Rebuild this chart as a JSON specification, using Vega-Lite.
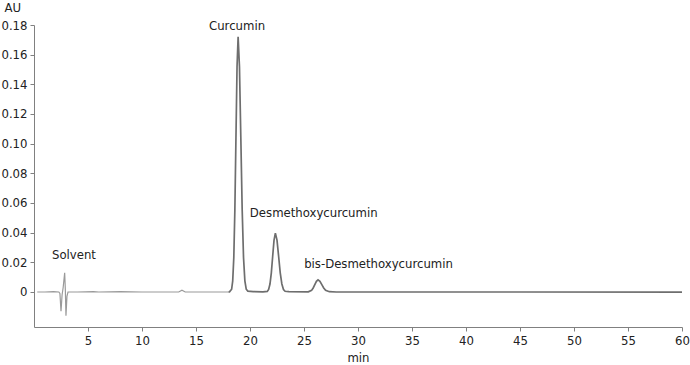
{
  "$schema": "https://vega.github.io/schema/vega-lite/v6.json",
  "width": 648,
  "height": 302,
  "autosize": {"type": "none"},
  "padding": {"left": 34, "top": 25, "right": 8, "bottom": 38},
  "background": "white",
  "config": {
    "view": {"stroke": null},
    "font": "DejaVu Sans Condensed, sans-serif"
  },
  "datasets": {
    "trace": [
      {"t": 0.3, "au": 0, "part": "a"},
      {"t": 1.0, "au": 0, "part": "a"},
      {"t": 1.8, "au": 0.0002, "part": "a"},
      {"t": 2.3, "au": 0, "part": "a"},
      {"t": 2.4, "au": -0.001, "part": "a"},
      {"t": 2.5, "au": -0.013, "part": "a"},
      {"t": 2.6, "au": -0.002, "part": "a"},
      {"t": 2.7, "au": 0.003, "part": "a"},
      {"t": 2.84, "au": 0.013, "part": "a"},
      {"t": 2.9, "au": 0.002, "part": "a"},
      {"t": 2.96, "au": -0.016, "part": "a"},
      {"t": 3.05, "au": -0.003, "part": "a"},
      {"t": 3.15, "au": 0, "part": "a"},
      {"t": 4.0, "au": 0, "part": "a"},
      {"t": 5.5, "au": 0.0003, "part": "a"},
      {"t": 6.0, "au": 0, "part": "a"},
      {"t": 8.0, "au": 0.0002, "part": "a"},
      {"t": 10.0, "au": 0, "part": "a"},
      {"t": 13.4, "au": 0, "part": "a"},
      {"t": 13.7, "au": 0.0012, "part": "a"},
      {"t": 14.0, "au": 0, "part": "a"},
      {"t": 16.0, "au": 0, "part": "a"},
      {"t": 18.0, "au": 0, "part": "a"},
      {"t": 18.0, "au": 0, "part": "b"},
      {"t": 18.1, "au": 0.0001, "part": "b"},
      {"t": 18.3, "au": 0.0019, "part": "b"},
      {"t": 18.4, "au": 0.0075, "part": "b"},
      {"t": 18.5, "au": 0.0233, "part": "b"},
      {"t": 18.6, "au": 0.0558, "part": "b"},
      {"t": 18.7, "au": 0.1043, "part": "b"},
      {"t": 18.8, "au": 0.1518, "part": "b"},
      {"t": 18.9, "au": 0.172, "part": "b"},
      {"t": 19.025, "au": 0.1518, "part": "b"},
      {"t": 19.15, "au": 0.1043, "part": "b"},
      {"t": 19.275, "au": 0.0558, "part": "b"},
      {"t": 19.4, "au": 0.0233, "part": "b"},
      {"t": 19.525, "au": 0.0075, "part": "b"},
      {"t": 19.65, "au": 0.0019, "part": "b"},
      {"t": 19.8, "au": 0.0006, "part": "b"},
      {"t": 20.3, "au": 0.0003, "part": "b"},
      {"t": 21.2, "au": 0.0001, "part": "b"},
      {"t": 21.6, "au": 0.0004, "part": "b"},
      {"t": 21.725, "au": 0.0017, "part": "b"},
      {"t": 21.85, "au": 0.0054, "part": "b"},
      {"t": 21.975, "au": 0.0129, "part": "b"},
      {"t": 22.1, "au": 0.0241, "part": "b"},
      {"t": 22.225, "au": 0.035, "part": "b"},
      {"t": 22.35, "au": 0.0397, "part": "b"},
      {"t": 22.5, "au": 0.035, "part": "b"},
      {"t": 22.65, "au": 0.0241, "part": "b"},
      {"t": 22.8, "au": 0.0129, "part": "b"},
      {"t": 22.95, "au": 0.0054, "part": "b"},
      {"t": 23.1, "au": 0.0017, "part": "b"},
      {"t": 23.25, "au": 0.0005, "part": "b"},
      {"t": 23.6, "au": 0.0002, "part": "b"},
      {"t": 25.4, "au": 0.0001, "part": "b"},
      {"t": 25.7, "au": 0.0011, "part": "b"},
      {"t": 25.85, "au": 0.0027, "part": "b"},
      {"t": 26.0, "au": 0.005, "part": "b"},
      {"t": 26.15, "au": 0.0072, "part": "b"},
      {"t": 26.3, "au": 0.0082, "part": "b"},
      {"t": 26.475, "au": 0.0072, "part": "b"},
      {"t": 26.65, "au": 0.005, "part": "b"},
      {"t": 26.825, "au": 0.0027, "part": "b"},
      {"t": 27.0, "au": 0.0011, "part": "b"},
      {"t": 27.35, "au": 0.0002, "part": "b"},
      {"t": 28.0, "au": 0, "part": "b"},
      {"t": 35.0, "au": 0, "part": "b"},
      {"t": 45.0, "au": 0, "part": "b"},
      {"t": 60.0, "au": -0.0001, "part": "b"}
    ],
    "labels": [
      {"t": 18.8, "au": 0.179, "name": "Curcumin"},
      {"t": 25.9, "au": 0.0532, "name": "Desmethoxycurcumin"},
      {"t": 31.9, "au": 0.0189, "name": "bis-Desmethoxycurcumin"},
      {"t": 3.7, "au": 0.0249, "name": "Solvent"}
    ]
  },
  "layer": [
    {
      "data": {"name": "trace"},
      "mark": {"type": "line", "interpolate": "linear"},
      "encoding": {
        "x": {
          "field": "t", "type": "quantitative",
          "scale": {"domain": [0, 60], "nice": false, "zero": false},
          "axis": {
            "title": "min", "values": [5, 10, 15, 20, 25, 30, 35, 40, 45, 50, 55, 60],
            "tickCount": 20,
            "grid": false, "domainColor": "#808080", "tickColor": "#808080",
            "tickSize": 4, "labelFontSize": 13, "labelColor": "#222",
            "labelPadding": 3, "titleFontSize": 13, "titleFontWeight": "normal",
            "titleColor": "#222", "titlePadding": 4, "labelFlush": false,
            "labelOverlap": false
          }
        },
        "y": {
          "field": "au", "type": "quantitative",
          "scale": {"domain": [-0.0236, 0.18], "nice": false, "zero": false},
          "axis": {
            "title": "AU", "values": [0, 0.02, 0.04, 0.06, 0.08, 0.1, 0.12, 0.14, 0.16, 0.18],
            "tickCount": 20,
            "labelExpr": "datum.value == 0 ? '0' : format(datum.value, '.2f')",
            "grid": false, "domainColor": "#808080", "tickColor": "#808080",
            "tickSize": 4, "labelFontSize": 13, "labelColor": "#222",
            "labelPadding": 3, "titleFontSize": 13, "titleFontWeight": "normal",
            "titleColor": "#222", "titleAngle": 0, "titleAlign": "left",
            "titleBaseline": "middle", "titleX": -30, "titleY": -18,
            "labelOverlap": false
          }
        },
        "color": {
          "field": "part", "type": "nominal",
          "scale": {"domain": ["a", "b"], "range": ["#9a9a9a", "#6e6e6e"]},
          "legend": null
        },
        "strokeWidth": {
          "field": "part", "type": "nominal",
          "scale": {"domain": ["a", "b"], "range": [1.2, 1.7]},
          "legend": null
        }
      }
    },
    {
      "data": {"name": "labels"},
      "mark": {"type": "text", "fontSize": 13, "color": "#222", "align": "center", "baseline": "middle"},
      "encoding": {
        "x": {"field": "t", "type": "quantitative"},
        "y": {"field": "au", "type": "quantitative"},
        "text": {"field": "name"}
      }
    }
  ]
}
